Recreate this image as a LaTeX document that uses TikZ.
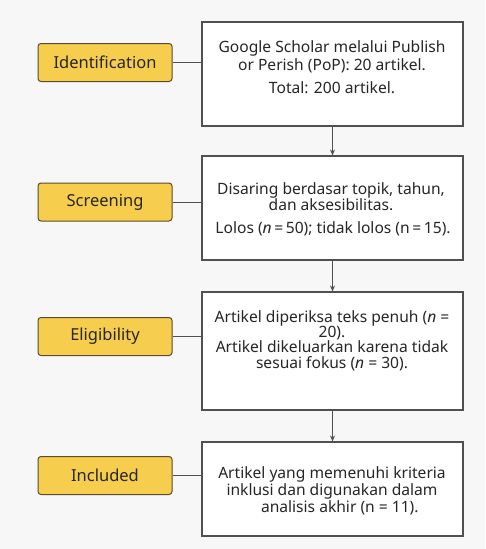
\documentclass[tikz,border=0pt]{standalone}
\usepackage{fontspec}
\setmainfont{Noto Sans}
\usetikzlibrary{arrows.meta}
\definecolor{bg}{HTML}{F7F7F7}
\definecolor{lab}{HTML}{F6CD4C}
\definecolor{labedge}{HTML}{5A4B2E}
\definecolor{edge}{HTML}{505050}
\definecolor{txt}{HTML}{262626}
\begin{document}
\begin{tikzpicture}[x=1pt,y=-1pt,
  stage/.style={draw=labedge, fill=lab, rounded corners=3pt, line width=1pt,
    minimum width=134pt, minimum height=38pt, inner sep=0pt,
    font=\fontsize{16.5}{18}\selectfont, text=txt},
  info/.style={draw=edge, fill=white, line width=1.1pt, minimum width=261pt, inner sep=0pt},
  infotext/.style={align=center, inner sep=0pt, text=txt},
  link/.style={draw=edge, line width=1pt},
  flow/.style={draw=edge, line width=1pt, -{Stealth[length=6pt,width=5pt]}}]
\fill[bg] (0,0) rectangle (485,549);
\useasboundingbox (0,0) rectangle (485,549);

% white boxes
\node[info, minimum height=104pt] (b1) at (332.5,74) {};
\node[info, minimum height=104pt] (b2) at (332.5,208) {};
\node[info, minimum height=118pt] (b3) at (332.5,351) {};
\node[info, minimum height=94pt]  (b4) at (332.5,489) {};

% texts
\node[infotext, font=\fontsize{15.6}{18}\selectfont] (t1) at (332,67)
  {Google Scholar melalui Publish\\or Perish (PoP): 20 artikel.\\[5pt]Total: 200 artikel.};
\node[infotext, font=\fontsize{15.6}{15.5}\selectfont] (t2) at (331,209)
  {Disaring berdasar topik, tahun,\\dan aksesibilitas.\\[7pt]\ Lolos (\textit{n}\,=\,50); tidak lolos (n\,=\,15).};
\node[infotext, font=\fontsize{15.6}{15.3}\selectfont] (t3) at (332,340.5)
  {Artikel diperiksa teks penuh (\textit{n} =\\20).\\Artikel dikeluarkan karena tidak\\sesuai fokus (\textit{n} = 30).};
\node[infotext, font=\fontsize{15.6}{17}\selectfont] (t4) at (332,491)
  {Artikel yang memenuhi kriteria\\inklusi dan digunakan dalam\\\quad analisis akhir (n = 11).};

% stage labels
\node[stage] (l1) at (105,62.5) {Identification};
\node[stage] (l2) at (105,202) {Screening};
\node[stage] (l3) at (105,336.5) {Eligibility};
\node[stage] (l4) at (105,475.5) {Included};

% connectors
\draw[link] (l1.east) -- (l1.east -| b1.west);
\draw[link] (l2.east) -- (l2.east -| b2.west);
\draw[link] (l3.east) -- (l3.east -| b3.west);
\draw[link] (l4.east) -- (l4.east -| b4.west);

\draw[flow] (b1.south) -- (b2.north);
\draw[flow] (b2.south) -- (b3.north);
\draw[flow] (b3.south) -- (b4.north);
\end{tikzpicture}
\end{document}
